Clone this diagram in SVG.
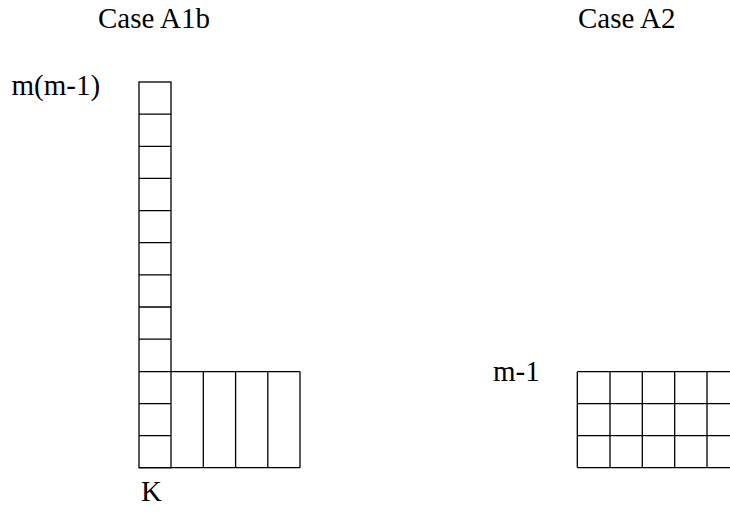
<svg xmlns="http://www.w3.org/2000/svg" width="730" height="517" viewBox="0 0 730 517">
<style>
.t{font-family:'Liberation Serif','DejaVu Serif',serif;font-size:29px;fill:#000}
.g{stroke:#000;stroke-width:1.3;fill:none}
</style>
<rect x="0" y="0" width="730" height="517" fill="#fff"/>
<g id="titles">
<text class="t" font-family="Liberation Serif, serif" x="98" y="28">Case A1b</text>
<text class="t" font-family="Liberation Serif, serif" x="578" y="28">Case A2</text>
</g>
<g id="labels">
<text class="t" font-family="Liberation Serif, serif" x="11.5" y="95">m(m-1)</text>
<text class="t" font-family="Liberation Serif, serif" x="141" y="501">K</text>
<text class="t" font-family="Liberation Serif, serif" x="493" y="381">m-1</text>
</g>
<g id="grid-A1b" class="g">
<rect x="139" y="82" width="32" height="385.7"/>
<path d="M139 114.1H171M139 146.3H171M139 178.4H171M139 210.6H171M139 242.7H171M139 274.9H171M139 307H171M139 339.2H171M139 403.6H171M139 435.7H171"/>
<path d="M139 371.7H300M139 467.7H300M203.3 371.7V467.7M235.6 371.7V467.7M267.8 371.7V467.7M300 371.7V467.7"/>
</g>
<g id="grid-A2" class="g">
<path d="M577.3 371.7H730M577.3 403.6H730M577.3 435.7H730M577.3 467.6H730"/>
<path d="M577.3 371.7V467.6M610 371.7V467.6M642.3 371.7V467.6M674.7 371.7V467.6M707 371.7V467.6"/>
</g>
</svg>
